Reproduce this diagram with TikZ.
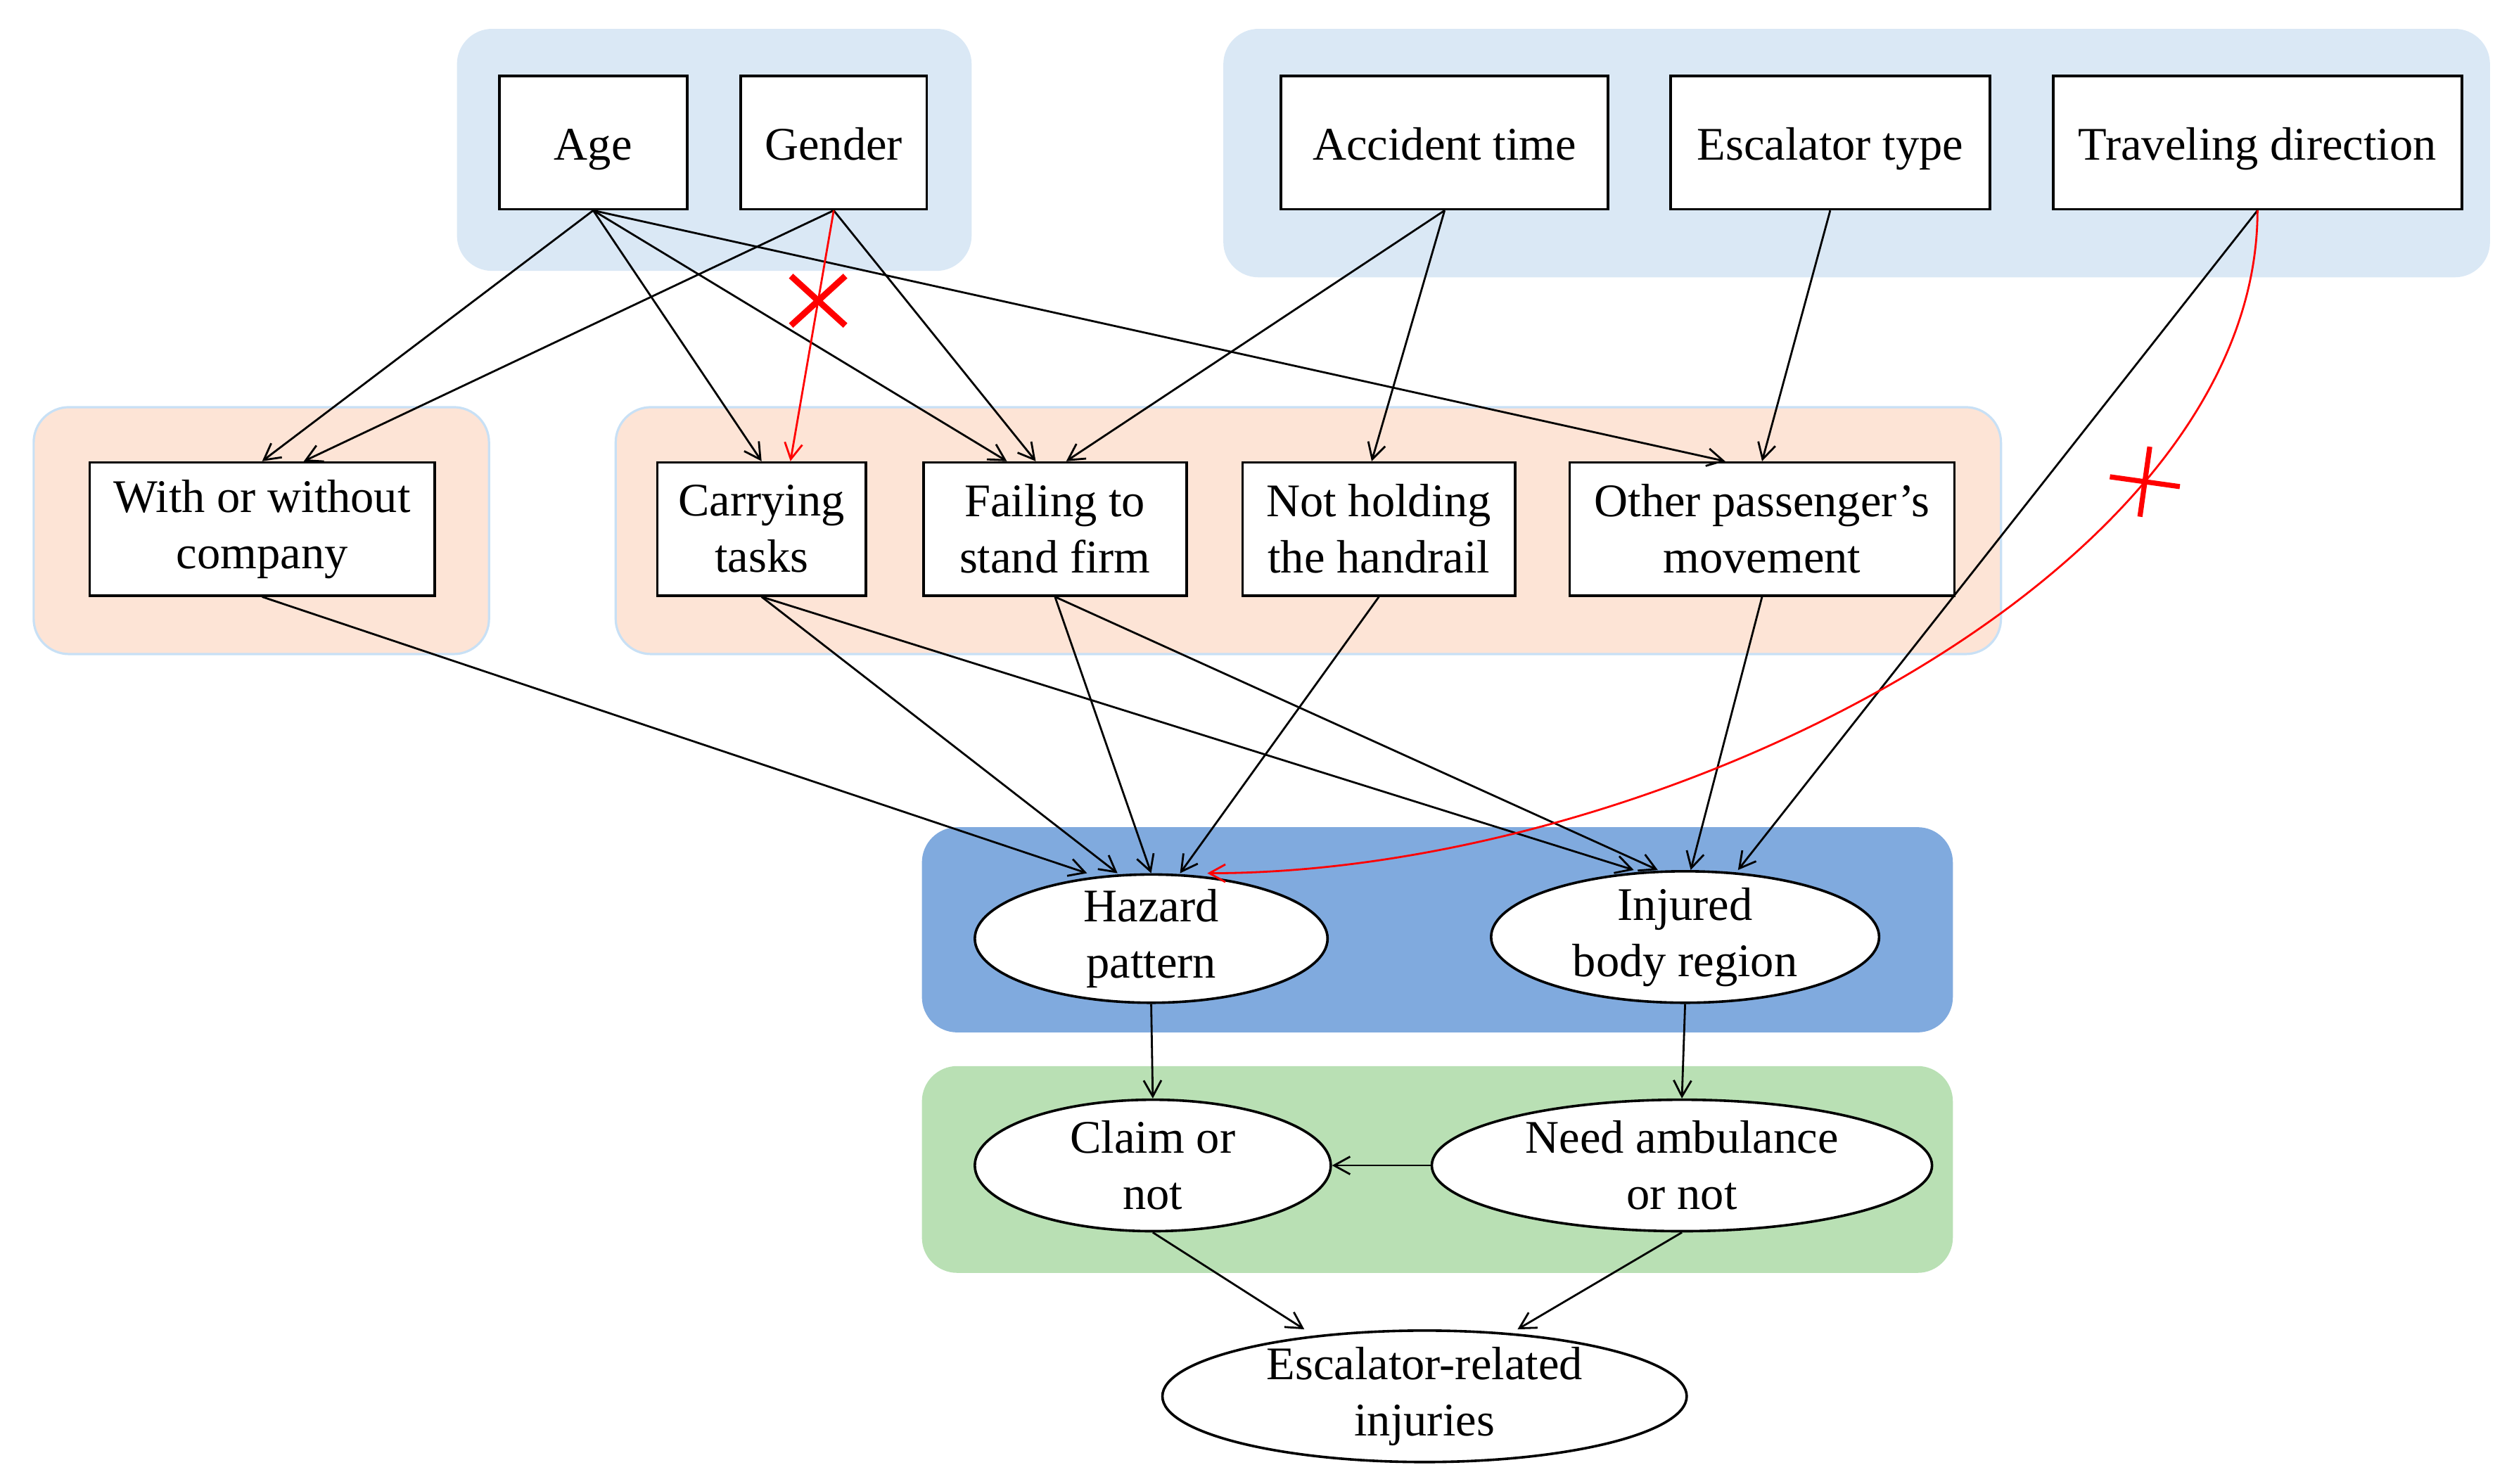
\documentclass[tikz,border=0pt]{standalone}
\usepackage{fontspec}
\setmainfont{Liberation Serif}
\usepackage{tikz}
\usetikzlibrary{arrows.meta}
\usetikzlibrary{shapes.geometric,shapes.misc}
\definecolor{grpblue}{RGB}{218,232,245}
\definecolor{grppeach}{RGB}{253,228,214}
\definecolor{grpedge}{RGB}{200,224,245}
\definecolor{grpdark}{RGB}{128,170,222}
\definecolor{grpgreen}{RGB}{185,224,180}
\tikzset{
  fct/.style={draw, fill=white, line width=.45pt, align=center, inner sep=0pt,
    minimum height=.83cm, font=\fontsize{8.3}{10}\selectfont},
  oneline/.style={text height=.25cm, text depth=.03cm},
  ell/.style={ellipse, draw, fill=white, line width=.45pt, align=center,
    inner xsep=0pt, inner ysep=-.12cm, minimum height=.82cm,
    font=\fontsize{8.3}{10}\selectfont},
  arr/.style={-{Straight Barb[length=1mm,width=1.1mm]}, line width=.35pt},
  xmark/.style={draw=red, cross out, line width=1.1pt, inner sep=0pt,
    minimum width=.3cm, minimum height=.27cm},
  plusmark/.style={draw=red, cross out, line width=.9pt, inner sep=0pt,
    minimum size=.28cm, rotate=37}
}

\begin{document}
\begin{tikzpicture}
\useasboundingbox (0,0) rectangle (15.68,-9.257);
% groups
\fill[grpblue, rounded corners=.22cm] (2.85,-.18) rectangle (6.06,-1.69);
\fill[grpblue, rounded corners=.22cm] (7.63,-.18) rectangle (15.53,-1.73);
\filldraw[fill=grppeach, draw=grpedge, line width=.4pt, rounded corners=.22cm] (.21,-2.54) rectangle (3.05,-4.08);
\filldraw[fill=grppeach, draw=grpedge, line width=.4pt, rounded corners=.22cm] (3.84,-2.54) rectangle (12.48,-4.08);
\fill[grpdark, rounded corners=.22cm] (5.75,-5.16) rectangle (12.18,-6.44);
\fill[grpgreen, rounded corners=.22cm] (5.75,-6.65) rectangle (12.18,-7.94);

% factors
\node[fct, oneline, minimum width=1.17cm] (age) at (3.70,-.89) {Age};
\node[fct, oneline, minimum width=1.16cm] (gender) at (5.20,-.89) {Gender};
\node[fct, oneline, minimum width=2.04cm] (acctime) at (9.01,-.89) {Accident time};
\node[fct, oneline, minimum width=1.99cm] (esctype) at (11.415,-.89) {Escalator type};
\node[fct, oneline, minimum width=2.55cm] (travdir) at (14.08,-.89) {Traveling direction};

\node[fct, minimum width=2.15cm] (company) at (1.635,-3.30) {With or without\\company};
\node[fct, minimum width=1.30cm] (carrying) at (4.75,-3.30) {Carrying\\tasks};
\node[fct, minimum width=1.64cm] (failing) at (6.58,-3.30) {Failing to\\stand firm};
\node[fct, minimum width=1.70cm] (handrail) at (8.60,-3.30) {Not holding\\the handrail};
\node[fct, minimum width=2.40cm] (othermove) at (10.99,-3.30) {Other passenger's\\movement};

\node[ell, minimum width=2.20cm, minimum height=.80cm] (hazard) at (7.18,-5.855) {Hazard\\pattern};
\node[ell, minimum width=2.42cm] (injured) at (10.51,-5.845) {Injured\\body region};
\node[ell, minimum width=2.22cm] (claim) at (7.19,-7.27) {Claim or\\not};
\node[ell, minimum width=3.12cm] (ambulance) at (10.49,-7.27) {Need ambulance\\or not};
\node[ell, minimum width=3.27cm] (injuries) at (8.885,-8.71) {Escalator-related\\injuries};

% links
\foreach \src/\dst/\dx in {age/company/0, gender/company/.26, age/carrying/0,
  age/failing/-.3, gender/failing/-.12, acctime/failing/.07, age/othermove/-.23,
  acctime/handrail/-.045, esctype/othermove/0,
  company/hazard/-.40, carrying/hazard/-.21, failing/hazard/0, handrail/hazard/.18,
  carrying/injured/-.32, failing/injured/-.17, othermove/injured/.035, travdir/injured/.33}
  \draw[arr] (\src.south) -- ([xshift=\dx cm]\dst.north);
\draw[arr] (hazard.south) -- (claim.north);
\draw[arr] (injured.south) -- (ambulance.north);
\draw[arr] (ambulance.west) -- (claim.east);
\draw[arr] (claim.south) -- ([xshift=-.75cm]injuries.north);
\draw[arr] (ambulance.south) -- ([xshift=.58cm]injuries.north);

% removed links
\draw[arr, red] (gender.south) -- node[pos=.36, xmark] (cut1) {} ([xshift=.18cm]carrying.north);
\draw[arr, red] (travdir.south) .. controls +(0,-2.27) and +(2.8,0) .. ([xshift=.35cm]hazard.north)
  node[pos=.265, plusmark] (cut2) {};
\end{tikzpicture}
\end{document}
